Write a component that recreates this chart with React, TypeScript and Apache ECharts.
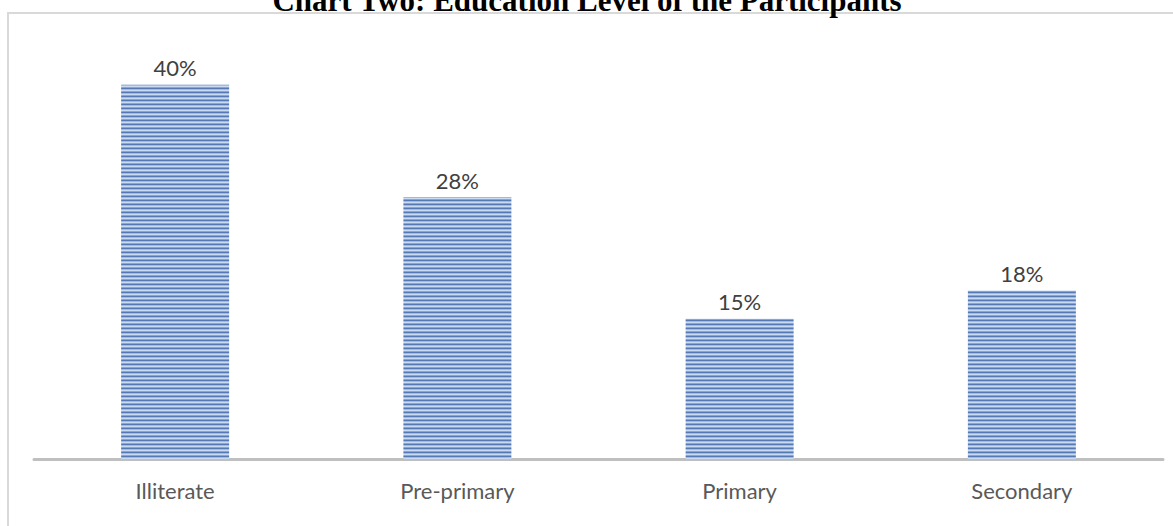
import React, { useEffect, useRef } from "react";
import * as echarts from "echarts";

const categories = ["Illiterate", "Pre-primary", "Primary", "Secondary"];
const values = [40, 28, 15, 18];
const titleText = "Chart Two: Education Level of the Participants";

function makePattern(): HTMLCanvasElement {
  const c = document.createElement("canvas");
  c.width = 4;
  c.height = 4;
  const ctx = c.getContext("2d")!;
  const rows = ["#5679b3", "#9dbbe3", "#c9dbf2", "#86a7d6"];
  rows.forEach((col, i) => {
    ctx.fillStyle = col;
    ctx.fillRect(0, i, 4, 1);
  });
  return c;
}

export default function App() {
  const ref = useRef<HTMLDivElement>(null);
  useEffect(() => {
    const chart = echarts.init(ref.current!, undefined, { renderer: "svg" });
    const pattern = makePattern();
    chart.setOption({
      animation: false,
      backgroundColor: "#ffffff",
      graphic: [
        {
          type: "rect",
          shape: { x: 8, y: 13, width: 1300, height: 700 },
          style: { fill: "none", stroke: "#d9d9d9", lineWidth: 2 },
          silent: true,
        },
        {
          type: "text",
          x: 587,
          y: 16,
          style: {
            text: titleText,
            align: "center",
            verticalAlign: "bottom",
            fontFamily: "Liberation Serif",
            fontWeight: "bold",
            fontSize: 31,
            fill: "#000000",
          },
        },
      ],
      grid: { left: 34, right: 10, top: 38, bottom: 67, containLabel: false },
      xAxis: {
        type: "category",
        data: categories,
        axisLine: { lineStyle: { color: "#bfbfbf", width: 3 } },
        axisTick: { show: false },
        axisLabel: {
          color: "#595959",
          fontFamily: "Lato",
          fontSize: 22,
          margin: 20,
        },
      },
      yAxis: {
        type: "value",
        min: 0,
        max: 45,
        show: false,
        splitLine: { show: false },
      },
      series: [
        {
          type: "bar",
          data: values,
          barWidth: 108,
          itemStyle: { color: { image: pattern, repeat: "repeat" } },
          label: {
            show: true,
            position: "top",
            distance: 6,
            formatter: "{c}%",
            color: "#404040",
            fontFamily: "Lato",
            fontSize: 22,
          },
        },
      ],
    });
    return () => chart.dispose();
  }, []);
  return (
    <div
      ref={ref}
      style={{ position: "absolute", left: 0, top: 0, width: 1173, height: 526 }}
    />
  );
}
